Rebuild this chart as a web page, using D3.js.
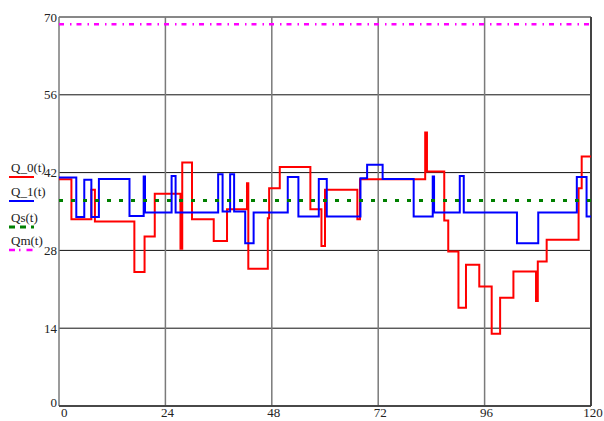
<!DOCTYPE html>
<html>
<head>
<meta charset="utf-8">
<script src="https://cdn.jsdelivr.net/npm/d3@7"></script>
<style>
  body { margin: 0; background: #fff; }
</style>
</head>
<body>
<script>
// step data: value holds from t until next t
var q0T = [0, 2.8, 7.3, 8.1, 17.0, 19.3, 21.6, 27.4, 27.8, 30.0, 34.9, 37.9, 42.4, 42.7, 47.1, 47.4, 49.8, 56.7, 59.2, 60.0,
           67.3, 67.9, 82.6, 83.0, 86.9, 87.8, 90.1, 91.8, 94.8, 97.6, 99.5, 102.5, 107.6, 108.0, 110.0, 117.2, 117.9, 120];
var q0V = [40.8, 33.6, 38.9, 33.2, 24.1, 30.5, 38.2, 28.3, 43.8, 33.6, 29.7, 35.4, 40.1, 24.7, 33.8, 39.2, 43.0, 35.4, 28.8, 38.9,
           33.6, 40.8, 49.2, 42.2, 33.4, 27.8, 17.7, 25.4, 21.5, 13.0, 19.5, 24.2, 18.9, 26.0, 29.9, 39.2, 44.9, 44.9];

var q1T = [0, 3.9, 5.7, 7.3, 9.0, 15.9, 19.1, 19.4, 25.4, 26.3, 35.9, 36.9, 38.6, 39.5, 42.0, 43.9, 51.6, 54.0, 58.6, 60.4,
           68.0, 69.5, 73.0, 80.0, 84.3, 84.6, 90.4, 91.3, 103.3, 108.1, 116.8, 119.0, 120];
var q1V = [41.1, 34.0, 40.7, 34.0, 40.85, 34.2, 41.3, 34.8, 41.4, 34.8, 41.7, 35.0, 41.7, 35.0, 29.3, 34.8, 41.2, 34.1, 40.85, 34.1,
           41.0, 43.4, 40.85, 34.1, 41.3, 34.8, 41.4, 34.8, 29.3, 34.8, 41.2, 34.1, 34.1];

var qsValue = 37.0;
var qmValue = 68.7;

var xTicks = [0, 24, 48, 72, 96, 120];
var yTicks = [0, 14, 28, 42, 56, 70];

var legendNames = ["Q_0(t)", "Q_1(t)", "Qs(t)", "Qm(t)"];

var W = 604, H = 421;
var margin = {left: 59, right: 13, top: 17, bottom: 15};
var font = "'Liberation Serif', 'DejaVu Serif', serif";

var svg = d3.select("body").append("svg")
    .attr("width", W)
    .attr("height", H)
    .attr("font-family", font)
    .attr("font-size", 13);

var x = d3.scaleLinear().domain([0, 120]).range([margin.left, W - margin.right]);
var y = d3.scaleLinear().domain([0, 70]).range([H - margin.bottom, margin.top]);

// horizontal grid
svg.append("g").selectAll("line")
    .data(yTicks)
    .enter().append("line")
    .attr("x1", x(0)).attr("x2", x(120))
    .attr("y1", function (d) { return y(d); })
    .attr("y2", function (d) { return y(d); })
    .attr("stroke", "#111")
    .attr("stroke-width", 1);

// vertical grid
svg.append("g").selectAll("line")
    .data(xTicks)
    .enter().append("line")
    .attr("x1", function (d) { return x(d); })
    .attr("x2", function (d) { return x(d); })
    .attr("y1", y(0)).attr("y2", y(70))
    .attr("stroke", function (d) { return d === 120 ? "#444" : "#7a7a7a"; })
    .attr("stroke-width", function (d) { return d === 120 ? 2 : 1.5; });

// bottom axis line
svg.append("line")
    .attr("x1", x(0)).attr("x2", x(120))
    .attr("y1", y(0)).attr("y2", y(0))
    .attr("stroke", "#333").attr("stroke-width", 1.5);

// tick labels
svg.append("g").selectAll("text")
    .data(yTicks)
    .enter().append("text")
    .attr("x", x(0) - 2)
    .attr("y", function (d) { return y(d); })
    .attr("dy", d => d === 0 ? "0.1em" : "0.35em")
    .attr("text-anchor", "end")
    .attr("fill", "#222")
    .text(function (d) { return d; });

svg.append("g").selectAll("text")
    .data(xTicks)
    .enter().append("text")
    .attr("x", function (d) { return x(d) + 2; })
    .attr("y", H - 4)
    .attr("text-anchor", function (d) { return d === 0 ? "start" : "middle"; })
    .attr("fill", "#222")
    .text(function (d) { return d; });

// series
var step = d3.line()
    .x(function (d) { return x(d[0]); })
    .y(function (d) { return y(d[1]); })
    .curve(d3.curveStepAfter);

svg.append("path")
    .datum(d3.zip(q0T, q0V))
    .attr("d", step)
    .attr("fill", "none")
    .attr("stroke", "#ff0000")
    .attr("stroke-width", 2);

svg.append("path")
    .datum(d3.zip(q1T, q1V))
    .attr("d", step)
    .attr("fill", "none")
    .attr("stroke", "#0000ff")
    .attr("stroke-width", 2);

svg.append("path")
    .datum([[0, qsValue], [120, qsValue]])
    .attr("d", step)
    .attr("fill", "none")
    .attr("stroke", "#008000")
    .attr("stroke-width", 3)
    .attr("stroke-dasharray", "4,8");

svg.append("path")
    .datum([[0, qmValue], [120, qmValue]])
    .attr("d", step)
    .attr("fill", "none")
    .attr("stroke", "#ff00ff")
    .attr("stroke-width", 2.5)
    .attr("stroke-dasharray", "5,6,1.5,5");

// legend at left margin
var legendY = [172, 196, 222, 245];
var legendStyle = [
    {color: "#ff0000", w: 2, dash: null},
    {color: "#0000ff", w: 2, dash: null},
    {color: "#008000", w: 3, dash: "6,5"},
    {color: "#ff00ff", w: 2.5, dash: "6,4,1.5,6"}
];
legendNames.forEach(function (name, i) {
    svg.append("text")
        .attr("x", 11)
        .attr("y", legendY[i])
        .attr("fill", "#222")
        .text(name);
    svg.append("line")
        .attr("x1", 9).attr("x2", 34)
        .attr("y1", legendY[i] + 5).attr("y2", legendY[i] + 5)
        .attr("stroke", legendStyle[i].color)
        .attr("stroke-width", legendStyle[i].w)
        .attr("stroke-dasharray", legendStyle[i].dash);
});
</script>
</body>
</html>
